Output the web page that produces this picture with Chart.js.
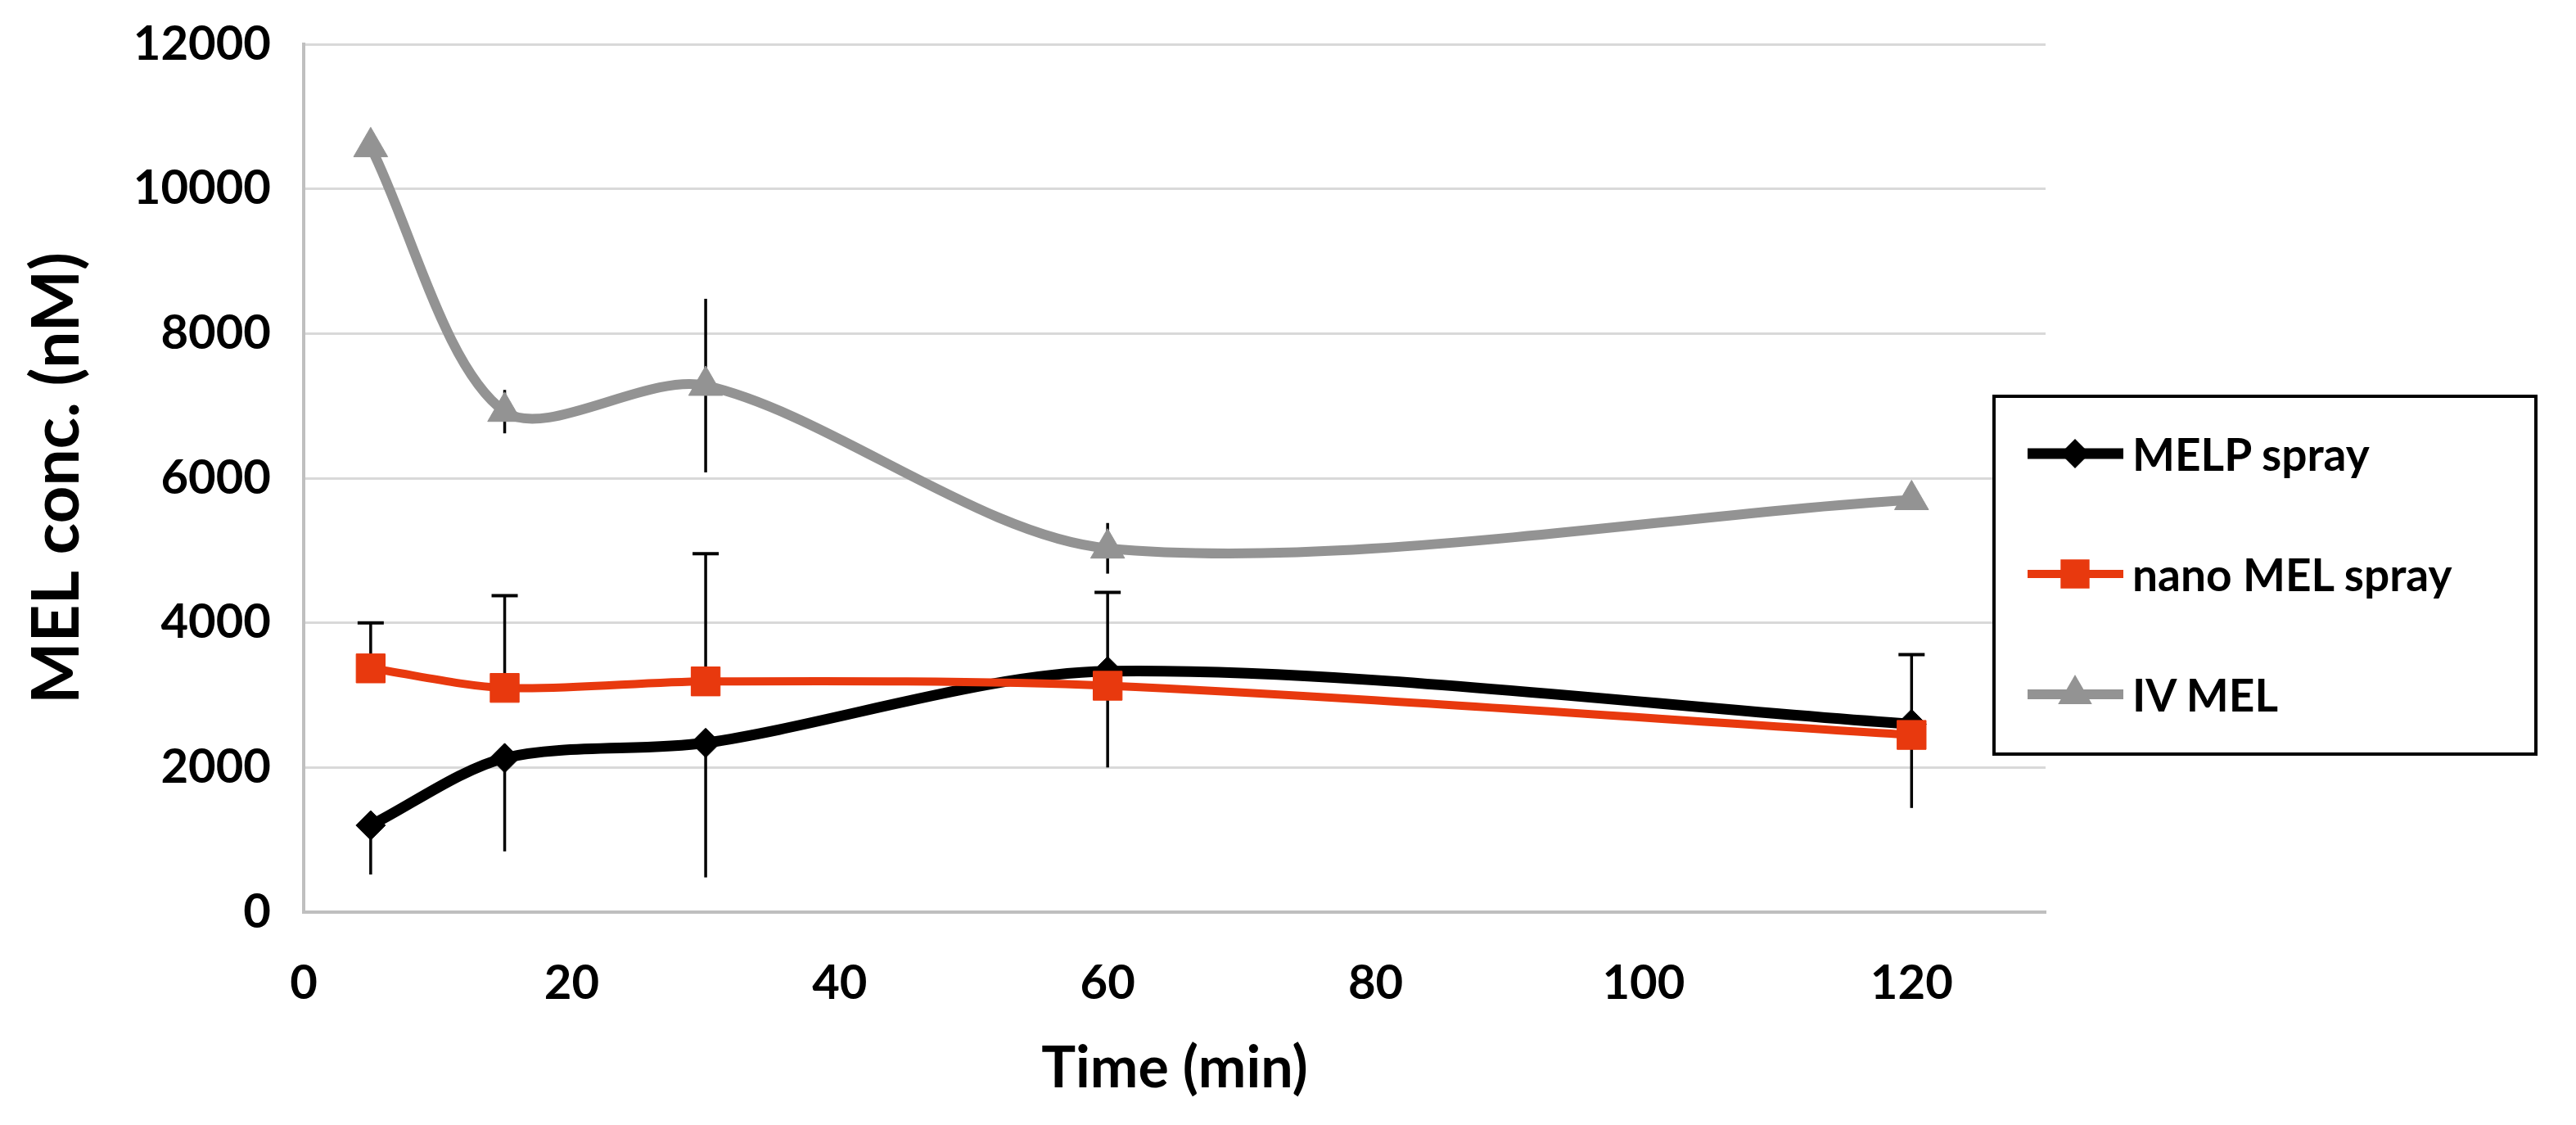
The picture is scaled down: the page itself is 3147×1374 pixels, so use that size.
<!DOCTYPE html>
<html>
<head>
<meta charset="utf-8">
<script src="https://cdn.jsdelivr.net/npm/chart.js@4.4.1/dist/chart.umd.min.js"></script>
<style>
  html, body { margin: 0; padding: 0; background: #ffffff; }
  #wrap { position: relative; width: 3147px; height: 1374px; }
  #c { display: block; }
  #legend {
    position: absolute; left: 2434px; top: 482px; width: 666px; height: 441px;
    box-sizing: border-box; border: 4px solid #000; background: #fff;
    font-family: Lato, "Noto Sans", sans-serif; font-weight: bold; font-size: 55px; color: #000;
  }
  .item { position: absolute; left: 35px; display: flex; align-items: center; height: 80px; white-space: nowrap; }
  .item canvas { margin-right: 8px; }
</style>
</head>
<body>
<div id="wrap">
  <canvas id="c" width="3147" height="1374"></canvas>
  <div id="legend"></div>
</div>
<script>
// ---- data ----
const times = [5, 15, 30, 60, 120];
const seriesNames = ['MELP spray', 'nano MEL spray', 'IV MEL'];
const melpSpray = [1200, 2130, 2340, 3330, 2600];
const melpSprayErrMinus = [680, 1290, 1860, 1330, 1160];
const nanoMelSpray = [3370, 3100, 3190, 3130, 2450];
const nanoMelSprayErrPlus = [630, 1275, 1765, 1290, 1110];
const ivMel = [10580, 6920, 7280, 5030, 5700];
const ivMelErr = [0, 300, 1200, 350, 0];
const xTickValues = [0, 20, 40, 60, 80, 100, 120];
const yTickValues = [0, 2000, 4000, 6000, 8000, 10000, 12000];
const xTitle = 'Time (min)';
const yTitle = 'MEL conc. (nM)';

const FONT = 'Lato, "Noto Sans", sans-serif';

function pts(vals) { return times.map((t, i) => ({ x: t, y: vals[i] })); }

const errorBarsPlugin = {
  id: 'errorBars',
  beforeDatasetsDraw(chart) {
    const { ctx, scales: { x, y } } = chart;
    ctx.save();
    ctx.strokeStyle = '#000';
    ctx.lineCap = 'butt';
    chart.data.datasets.forEach(ds => {
      const e = ds.errorBars;
      if (!e) return;
      ds.data.forEach((p, i) => {
        const px = x.getPixelForValue(p.x);
        const py = y.getPixelForValue(p.y);
        const plus = e.plus ? e.plus[i] : 0;
        const minus = e.minus ? e.minus[i] : 0;
        [[plus, 1], [minus, -1]].forEach(([v, sgn]) => {
          if (!v) return;
          const ey = y.getPixelForValue(p.y + sgn * v);
          ctx.lineWidth = 3.5;
          ctx.beginPath(); ctx.moveTo(px, py); ctx.lineTo(px, ey); ctx.stroke();
          if (e.cap) {
            ctx.lineWidth = 4;
            ctx.beginPath(); ctx.moveTo(px - e.cap, ey); ctx.lineTo(px + e.cap, ey); ctx.stroke();
          }
        });
      });
    });
    ctx.restore();
  }
};

function drawMarker(ctx, style, r, cx, cy) {
  ctx.beginPath();
  if (style === 'rectRot') {
    ctx.moveTo(cx - r, cy); ctx.lineTo(cx, cy - r); ctx.lineTo(cx + r, cy); ctx.lineTo(cx, cy + r);
  } else if (style === 'rect') {
    const s = Math.SQRT1_2 * r;
    ctx.rect(cx - s, cy - s, 2 * s, 2 * s);
  } else if (style === 'triangle') {
    for (let k = 0; k < 3; k++) {
      const a = k * 2 * Math.PI / 3;
      const px = cx + Math.sin(a) * r, py = cy - Math.cos(a) * r;
      if (k === 0) ctx.moveTo(px, py); else ctx.lineTo(px, py);
    }
  }
  ctx.closePath();
  ctx.fill();
}

const htmlLegendPlugin = {
  id: 'htmlLegend',
  afterUpdate(chart) {
    const box = document.getElementById('legend');
    box.innerHTML = '';
    chart.data.datasets.forEach((ds, i) => {
      const item = document.createElement('div');
      item.className = 'item';
      item.style.top = (68 + i * 147 - 40) + 'px';
      const cv = document.createElement('canvas');
      cv.width = 124; cv.height = 60;
      const c = cv.getContext('2d');
      c.strokeStyle = ds.borderColor; c.lineWidth = ds.borderWidth;
      c.beginPath(); c.moveTo(4, 30); c.lineTo(121, 30); c.stroke();
      c.fillStyle = ds.pointBackgroundColor;
      drawMarker(c, ds.pointStyle, ds.pointRadius, 62, 30);
      const span = document.createElement('span');
      span.textContent = ds.label;
      item.appendChild(cv); item.appendChild(span);
      box.appendChild(item);
    });
  }
};

function makeChart() {
  new Chart(document.getElementById('c'), {
    type: 'line',
    data: {
      datasets: [
        {
          label: seriesNames[0], data: pts(melpSpray),
          borderColor: '#000000', backgroundColor: '#000000', borderWidth: 13,
          pointStyle: 'rectRot', pointRadius: 18, pointHoverRadius: 18,
          pointBackgroundColor: '#000000', pointBorderColor: '#000000', pointBorderWidth: 1,
          tension: 0.3, order: 3, fill: false,
          errorBars: { minus: melpSprayErrMinus, cap: 0 }
        },
        {
          label: seriesNames[1], data: pts(nanoMelSpray),
          borderColor: '#E8390E', backgroundColor: '#E8390E', borderWidth: 10,
          pointStyle: 'rect', pointRadius: 25, pointHoverRadius: 25,
          pointBackgroundColor: '#E8390E', pointBorderColor: '#E8390E', pointBorderWidth: 1,
          tension: 0.3, order: 2, fill: false,
          errorBars: { plus: nanoMelSprayErrPlus, cap: 16 }
        },
        {
          label: seriesNames[2], data: pts(ivMel),
          borderColor: '#939393', backgroundColor: '#939393', borderWidth: 12,
          pointStyle: 'triangle', pointRadius: 24, pointHoverRadius: 24,
          pointBackgroundColor: '#939393', pointBorderColor: '#939393', pointBorderWidth: 1,
          tension: 0.3, order: 1, fill: false,
          errorBars: { plus: ivMelErr, minus: ivMelErr, cap: 0 }
        }
      ]
    },
    options: {
      responsive: false,
      devicePixelRatio: 1,
      animation: false,
      layout: { padding: { top: 54, right: 648, left: 0, bottom: 0 } },
      plugins: { legend: { display: false }, tooltip: { enabled: false } },
      elements: { line: { borderCapStyle: 'round', borderJoinStyle: 'round' } },
      scales: {
        x: {
          type: 'linear', min: 0, max: 130,
          afterBuildTicks: s => { s.ticks = xTickValues.map(v => ({ value: v })); },
          afterFit: s => { s.height = 260; },
          grid: { display: false, drawTicks: false },
          border: { display: true, color: '#bfbfbf', width: 4 },
          ticks: { color: '#000', padding: 52, font: { family: FONT, size: 58, weight: 'bold' }, maxRotation: 0, autoSkip: false,
                   callback: v => String(v) },
          title: { display: true, text: xTitle, color: '#000', font: { family: FONT, size: 70, weight: 'bold' }, padding: { top: 0, bottom: 27 } }
        },
        y: {
          type: 'linear', min: 0, max: 12000,
          afterBuildTicks: s => { s.ticks = yTickValues.map(v => ({ value: v })); },
          afterFit: s => { s.width = 371; s.paddingTop = 0; s.paddingBottom = 0; },
          grid: { color: '#d9d9d9', lineWidth: 3, drawTicks: false },
          border: { display: true, color: '#bfbfbf', width: 4 },
          ticks: { color: '#000', padding: 40, font: { family: FONT, size: 58, weight: 'bold' }, autoSkip: false,
                   callback: v => String(v) },
          title: { display: true, text: yTitle, color: '#000', font: { family: FONT, size: 80, weight: 'bold' }, padding: { top: 22, bottom: 0 } }
        }
      }
    },
    plugins: [errorBarsPlugin, htmlLegendPlugin]
  });
}

if (document.fonts && document.fonts.load) {
  Promise.all([document.fonts.load('bold 58px Lato'), document.fonts.load('bold 80px Lato')]).then(makeChart, makeChart);
} else { makeChart(); }
</script>
</body>
</html>
